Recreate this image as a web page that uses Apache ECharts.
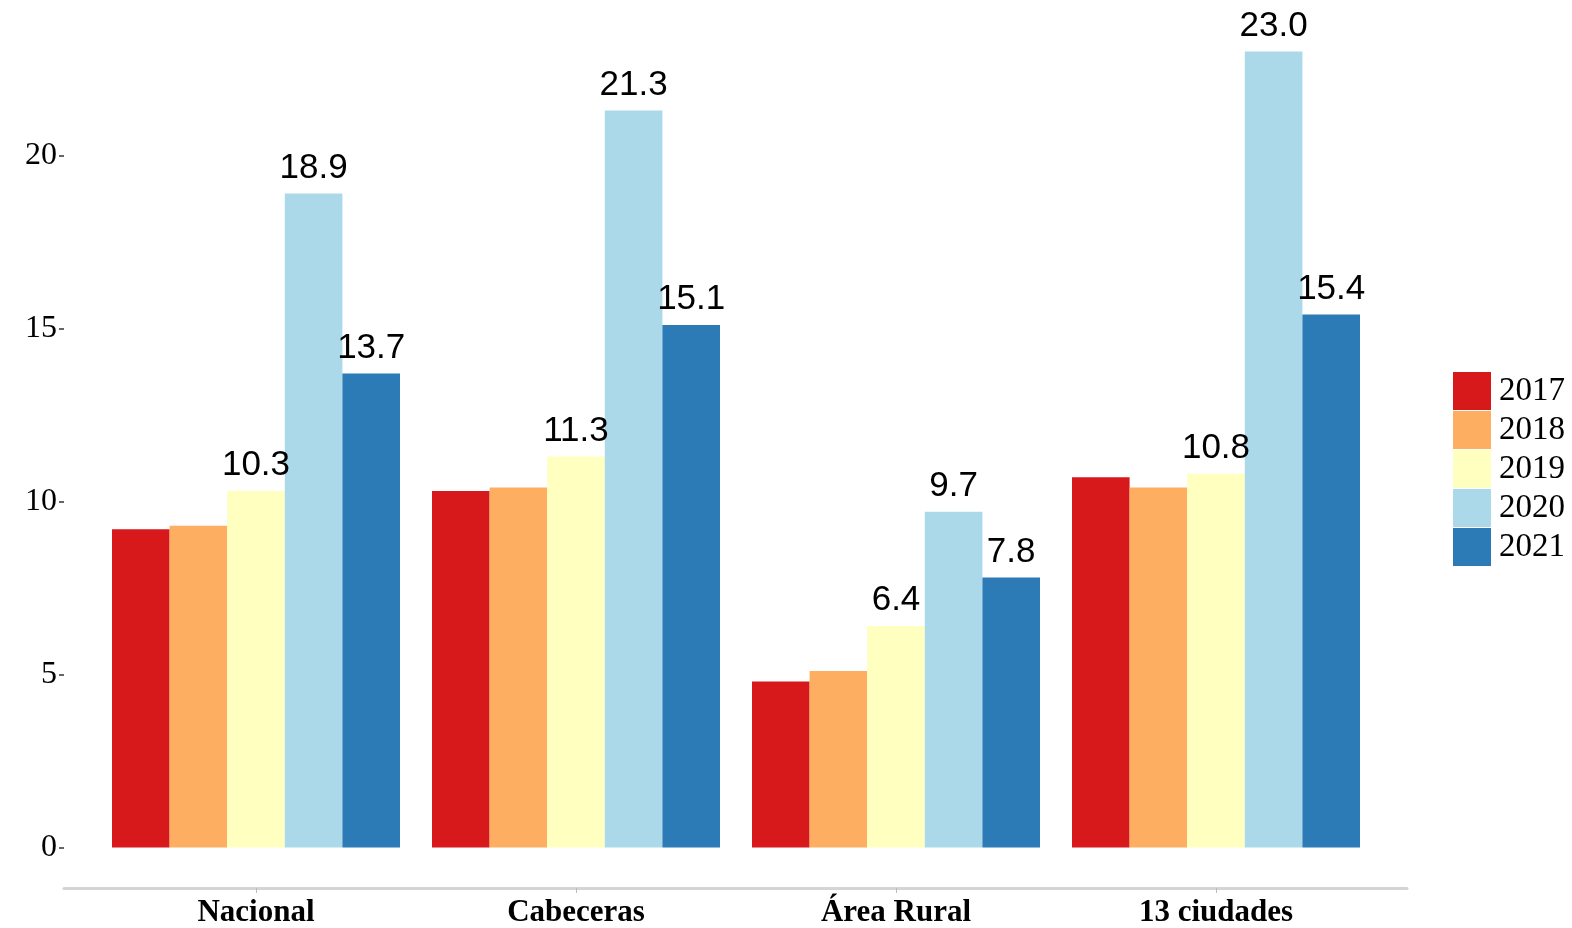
<!DOCTYPE html>
<html>
<head>
<meta charset="utf-8">
<script src="https://cdn.jsdelivr.net/npm/echarts@6/dist/echarts.min.js"></script>
<style>
  html, body { margin: 0; padding: 0; background: #fff; }
  #chart { width: 1572px; height: 928px; }
</style>
</head>
<body>
<div id="chart"></div>
<script>
var categories = ['Nacional', 'Cabeceras', 'Área Rural', '13 ciudades']
var years = ['2017', '2018', '2019', '2020', '2021']
var values2017 = [9.2, 10.3, 4.8, 10.7]
var values2018 = [9.3, 10.4, 5.1, 10.4]
var values2019 = [10.3, 11.3, 6.4, 10.8]
var values2020 = [18.9, 21.3, 9.7, 23.0]
var values2021 = [13.7, 15.1, 7.8, 15.4]
var yTicks = [0, 5, 10, 15, 20]

var colors = ['#d7191c', '#fdae61', '#ffffbf', '#abd9e9', '#2c7bb6']
var seriesData = [values2017, values2018, values2019, values2020, values2021]
var labelled = [false, false, true, true, true]

var chart = echarts.init(document.getElementById('chart'))

var series = years.map(function (y, i) {
  return {
    name: y,
    type: 'bar',
    xAxisIndex: 0,
    yAxisIndex: 0,
    barGap: '0%',
    barCategoryGap: '10%',
    itemStyle: { color: colors[i] },
    label: {
      show: labelled[i],
      position: 'top',
      distance: 8,
      fontFamily: 'Liberation Sans',
      fontSize: 35,
      color: '#000',
      formatter: function (p) { return p.value.toFixed(1) }
    },
    data: seriesData[i]
  }
})

chart.setOption({
  animation: false,
  legend: {
    orient: 'vertical',
    left: 1448,
    top: 367,
    itemWidth: 38,
    itemHeight: 38,
    itemGap: 1,
    icon: 'rect',
    textStyle: {
      fontFamily: 'Liberation Serif',
      fontSize: 33,
      color: '#000',
      padding: [0, 0, 0, 3]
    },
    data: years
  },
  grid: [
    { left: 96, right: 196, top: 17, bottom: 40 },
    { left: 64, right: 165, top: 17, bottom: 40 }
  ],
  xAxis: [
    {
      type: 'category',
      gridIndex: 0,
      data: categories,
      axisLine: { show: false, onZero: false },
      axisTick: {
        show: true,
        alignWithLabel: true,
        length: 5,
        lineStyle: { color: '#bbb', width: 1 }
      },
      axisLabel: {
        margin: 9,
        fontFamily: 'Liberation Serif',
        fontWeight: 'bold',
        fontSize: 31,
        color: '#000'
      }
    },
    {
      type: 'value',
      gridIndex: 1,
      min: 0,
      max: 1,
      axisLine: { show: true, onZero: false, lineStyle: { color: '#d4d4d4', width: 3 } },
      axisTick: { show: false },
      axisLabel: { show: false },
      splitLine: { show: false }
    }
  ],
  yAxis: [
    {
      type: 'value',
      gridIndex: 0,
      min: -1.17,
      max: 24,
      offset: 32,
      axisLine: { show: false },
      axisTick: {
        show: true,
        length: 5,
        customValues: yTicks,
        lineStyle: { color: '#333', width: 1.5 }
      },
      splitLine: { show: false },
      axisLabel: {
        margin: 7,
        customValues: yTicks,
        fontFamily: 'Liberation Serif',
        fontSize: 32,
        color: '#000'
      }
    },
    {
      type: 'value',
      gridIndex: 1,
      show: false
    }
  ],
  series: series
})
</script>
</body>
</html>
